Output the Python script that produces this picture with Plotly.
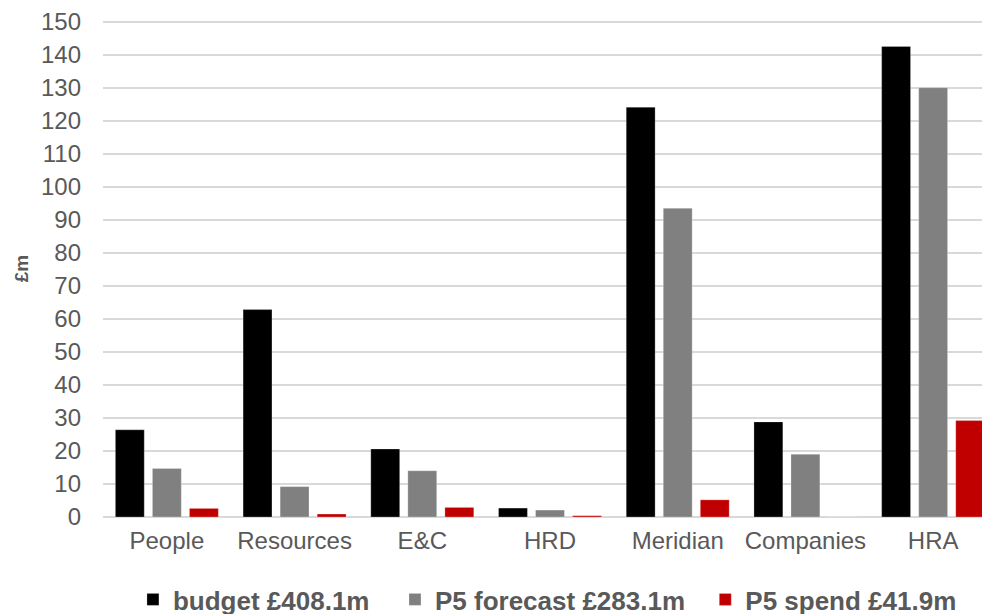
import plotly.graph_objects as go

categories = ["People", "Resources", "E&C", "HRD", "Meridian", "Companies", "HRA"]
budget = [26.4, 62.8, 20.6, 2.7, 124.1, 28.8, 142.5]
forecast = [14.7, 9.2, 14.0, 2.1, 93.5, 19.0, 130.0]
spend = [2.6, 0.9, 2.9, 0.4, 5.2, 0.0, 29.2]
series_names = ["budget £408.1m", "P5 forecast £283.1m", "P5 spend £41.9m"]
colors = ["#000000", "#808080", "#C00000"]
y_ticks = list(range(0, 151, 10))

legend_ids = ["legend", "legend2", "legend3"]
legend_x = [0.0335, 0.3266, 0.6737]

fig = go.Figure()
for name, vals, col, lg in zip(series_names, [budget, forecast, spend], colors, legend_ids):
    fig.add_trace(go.Bar(
        x=categories, y=vals, name=name, legend=lg,
        marker=dict(color=col, line=dict(color="rgba(255,255,255,0.5)", width=0.5)),
    ))

text_col = "#595959"
legend_font = dict(size=26, color=text_col, family="Liberation Sans, Arial, sans-serif", weight="bold")
legends = {}
for lg, lx in zip(legend_ids, legend_x):
    legends[lg] = dict(
        orientation="h", x=lx, xanchor="left", y=-0.166, yanchor="middle",
        font=legend_font, itemwidth=30, bgcolor="rgba(0,0,0,0)",
    )

fig.update_layout(
    width=990, height=614,
    margin=dict(l=95, r=1, t=11.5, b=105, autoexpand=False),
    paper_bgcolor="white", plot_bgcolor="white",
    font=dict(family="Liberation Sans, Arial, sans-serif", color=text_col, size=24),
    barmode="group", bargap=0.13, bargroupgap=0.22,
    showlegend=True,
    xaxis=dict(
        showgrid=False, zeroline=False, showline=False, automargin=False,
        tickfont=dict(size=24, color=text_col), ticks="", ticklabelstandoff=7,
        ticklabeloverflow="allow",
    ),
    yaxis=dict(
        range=[0, 150.5], tickvals=y_ticks, showgrid=True, gridcolor="#D9D9D9", gridwidth=1.5,
        zeroline=True, zerolinecolor="#D9D9D9", zerolinewidth=1.5, showline=False, automargin=False,
        tickfont=dict(size=24, color=text_col), ticks="", ticklabelstandoff=21,
        ticklabeloverflow="allow",
        title=dict(text="<b>£m</b>", font=dict(size=19, color=text_col), standoff=7),
    ),
    **legends,
)

fig.write_html("out.html")
